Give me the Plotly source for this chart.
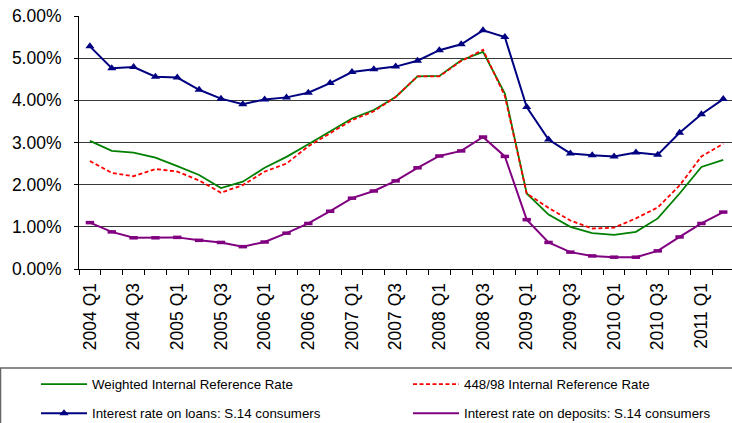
import plotly.graph_objects as go

quarters = [
    "2004 Q1", "2004 Q2", "2004 Q3", "2004 Q4",
    "2005 Q1", "2005 Q2", "2005 Q3", "2005 Q4",
    "2006 Q1", "2006 Q2", "2006 Q3", "2006 Q4",
    "2007 Q1", "2007 Q2", "2007 Q3", "2007 Q4",
    "2008 Q1", "2008 Q2", "2008 Q3", "2008 Q4",
    "2009 Q1", "2009 Q2", "2009 Q3", "2009 Q4",
    "2010 Q1", "2010 Q2", "2010 Q3", "2010 Q4",
    "2011 Q1", "2011 Q2",
]

weighted_irr = [
    3.04, 2.80, 2.76, 2.64,
    2.44, 2.23, 1.92, 2.07,
    2.40, 2.66, 2.96, 3.27,
    3.57, 3.77, 4.08, 4.57,
    4.58, 4.95, 5.15, 4.16,
    1.79, 1.29, 1.00, 0.85,
    0.81, 0.88, 1.20, 1.79,
    2.42, 2.59,
]

irr_448_98 = [
    2.56, 2.28, 2.20, 2.37,
    2.31, 2.10, 1.81, 1.99,
    2.31, 2.50, 2.91, 3.23,
    3.53, 3.74, 4.08, 4.57,
    4.57, 4.93, 5.20, 4.10,
    1.79, 1.45, 1.15, 0.96,
    0.98, 1.20, 1.46, 1.98,
    2.67, 2.97,
]

loans_s14 = [
    5.28, 4.76, 4.79, 4.56,
    4.54, 4.25, 4.04, 3.91,
    4.02, 4.07, 4.18, 4.41,
    4.67, 4.74, 4.80, 4.94,
    5.19, 5.33, 5.66, 5.50,
    3.84, 3.07, 2.74, 2.70,
    2.67, 2.76, 2.71, 3.23,
    3.67, 4.03,
]

deposits_s14 = [
    1.10, 0.88, 0.74, 0.74,
    0.75, 0.68, 0.63, 0.53,
    0.64, 0.85, 1.08, 1.37,
    1.68, 1.85, 2.09, 2.40,
    2.68, 2.80, 3.13, 2.67,
    1.17, 0.63, 0.40, 0.31,
    0.28, 0.28, 0.43, 0.76,
    1.08, 1.35,
]

series_names = [
    "Weighted Internal Reference Rate",
    "448/98 Internal Reference Rate",
    "Interest rate on loans: S.14 consumers",
    "Interest rate on deposits: S.14 consumers",
]

y_ticks = [0, 1, 2, 3, 4, 5, 6]

FONT = "Liberation Sans, Arial, sans-serif"
x = list(range(len(quarters)))

fig = go.Figure()

fig.add_trace(go.Scatter(
    x=x, y=weighted_irr, mode="lines", name=series_names[0],
    line=dict(color="#008000", width=1.8), legend="legend",
))
fig.add_trace(go.Scatter(
    x=x, y=irr_448_98, mode="lines", name=series_names[1],
    line=dict(color="#FF0000", width=1.8, dash="4px,2.5px"), legend="legend2",
))
fig.add_trace(go.Scatter(
    x=x, y=loans_s14, mode="lines+markers", name=series_names[2],
    line=dict(color="#000080", width=2),
    marker=dict(symbol="triangle-up", size=8, color="#000080"),
    legend="legend3",
))
fig.add_trace(go.Scatter(
    x=x, y=deposits_s14, mode="lines", name=series_names[3],
    line=dict(color="#800080", width=2), legend="legend4",
))
fig.add_trace(go.Scatter(
    x=x, y=deposits_s14, mode="markers", showlegend=False, hoverinfo="skip",
    marker=dict(symbol="line-ew", size=6, color="#800080",
                line=dict(color="#800080", width=3.5)),
))

W, H = 732, 423
L, R, T, B = 79, 0, 16, 154
pw = W - L - R
ph = H - T - B

def px_x(p):
    return (p - L) / pw

def px_y(p):
    return (H - B - p) / ph

def cx(p):
    return p / W

def cy(p):
    return 1 - p / H

legend_common = dict(
    orientation="v", xanchor="left", yanchor="top",
    xref="container", yref="container",
    font=dict(family=FONT, size=13.3, color="#000000"),
    bgcolor="rgba(0,0,0,0)", borderwidth=0, itemwidth=46,
)

fig.update_layout(
    template="none",
    width=W, height=H,
    margin=dict(l=L, r=R, t=T, b=B, pad=0, autoexpand=False),
    paper_bgcolor="white", plot_bgcolor="white",
    font=dict(family=FONT, color="#000000"),
    showlegend=True,
    hovermode="closest",
    legend=dict(x=cx(36), y=cy(369), **legend_common),
    legend2=dict(x=cx(408), y=cy(369), **legend_common),
    legend3=dict(x=cx(36), y=cy(398), **legend_common),
    legend4=dict(x=cx(408), y=cy(398), **legend_common),
    xaxis=dict(
        automargin=False,
        range=[-0.5, 29.4],
        tickmode="array",
        tickvals=x[::2],
        ticktext=quarters[::2],
        tickangle=-90,
        ticks="",
        tickfont=dict(family=FONT, size=17.5, color="#000000"),
        showgrid=False, zeroline=False,
        showline=True, linecolor="#000000", linewidth=1,
        ticklabelstandoff=6,
        minor=dict(
            tickmode="array",
            tickvals=[i - 0.5 for i in range(len(quarters) + 1)],
            ticks="outside", ticklen=5, tickcolor="#000000", tickwidth=1,
            showgrid=False,
        ),
    ),
    yaxis=dict(
        automargin=False,
        range=[0, 6],
        tickmode="array",
        tickvals=y_ticks,
        ticktext=[f"{v:.2f}%" for v in y_ticks],
        tickfont=dict(family=FONT, size=17.5, color="#000000"),
        ticks="outside", ticklen=4, tickcolor="#000000", tickwidth=1,
        showgrid=True, gridcolor="#3a3a3a", gridwidth=1,
        zeroline=False,
        showline=True, linecolor="#000000", linewidth=1,
        ticklabelstandoff=9,
    ),
    shapes=[
        dict(type="rect", xref="paper", yref="paper",
             x0=px_x(0.5), x1=px_x(740), y0=px_y(440), y1=px_y(368),
             line=dict(color="#666666", width=1.5), fillcolor="rgba(0,0,0,0)",
             layer="below"),
    ],
)

fig.write_html(
    "out.html",
    config={"displayModeBar": False},
    post_script="document.body.style.margin='0';document.body.style.overflow='hidden';",
)
